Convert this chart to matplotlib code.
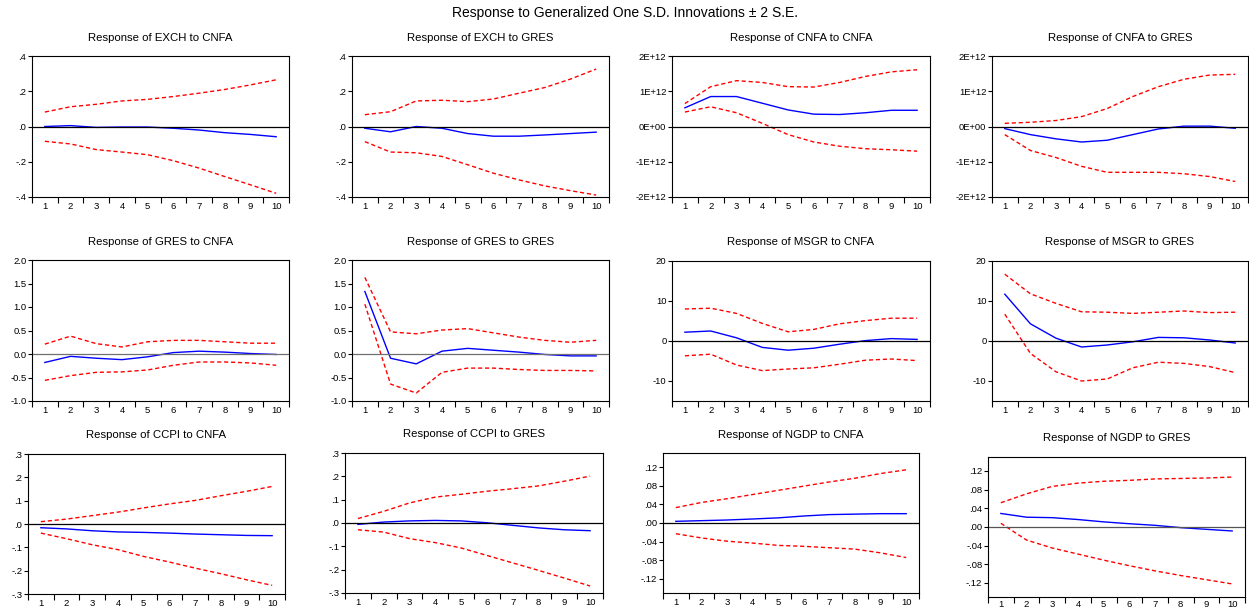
import matplotlib
matplotlib.use("Agg")
import matplotlib.pyplot as plt
import numpy as np

plt.rcParams['font.family'] = ['Liberation Sans', 'DejaVu Sans']

periods = [1, 2, 3, 4, 5, 6, 7, 8, 9, 10]

titles = ["Response of EXCH to CNFA", "Response of EXCH to GRES",
          "Response of CNFA to CNFA", "Response of CNFA to GRES",
          "Response of GRES to CNFA", "Response of GRES to GRES",
          "Response of MSGR to CNFA", "Response of MSGR to GRES",
          "Response of CCPI to CNFA", "Response of CCPI to GRES",
          "Response of NGDP to CNFA", "Response of NGDP to GRES"]

# point responses
resp_exch_cnfa = [0.0, 0.005, -0.005, -0.003, -0.003, -0.01, -0.02, -0.035, -0.045, -0.058]
resp_exch_gres = [-0.01, -0.03, 0.0, -0.01, -0.04, -0.055, -0.055, -0.048, -0.04, -0.032]
resp_cnfa_cnfa = [0.53e12, 0.85e12, 0.85e12, 0.66e12, 0.47e12, 0.35e12, 0.34e12, 0.39e12, 0.46e12, 0.46e12]
resp_cnfa_gres = [-0.06e12, -0.23e12, -0.35e12, -0.44e12, -0.39e12, -0.23e12, -0.07e12, 0.01e12, 0.01e12, -0.05e12]
resp_gres_cnfa = [-0.18, -0.05, -0.09, -0.12, -0.06, 0.03, 0.06, 0.04, 0.01, -0.01]
resp_gres_gres = [1.33, -0.09, -0.21, 0.06, 0.12, 0.08, 0.04, -0.01, -0.04, -0.04]
resp_msgr_cnfa = [2.2, 2.5, 0.8, -1.6, -2.3, -1.8, -0.8, 0.1, 0.6, 0.4]
resp_msgr_gres = [11.7, 4.3, 0.7, -1.5, -1.0, -0.2, 0.9, 0.8, 0.25, -0.5]
resp_ccpi_cnfa = [-0.016, -0.021, -0.029, -0.034, -0.036, -0.039, -0.043, -0.046, -0.049, -0.05]
resp_ccpi_gres = [-0.006, 0.004, 0.009, 0.011, 0.009, 0.001, -0.01, -0.021, -0.029, -0.033]
resp_ngdp_cnfa = [0.0036, 0.005, 0.0064, 0.0086, 0.011, 0.015, 0.018, 0.019, 0.02, 0.02]
resp_ngdp_gres = [0.029, 0.021, 0.02, 0.016, 0.011, 0.007, 0.0036, -0.0014, -0.005, -0.0085]

# upper bands (+2 S.E.)
up_exch_cnfa = [0.082, 0.112, 0.126, 0.145, 0.154, 0.17, 0.189, 0.21, 0.236, 0.265]
up_exch_gres = [0.067, 0.084, 0.145, 0.149, 0.141, 0.156, 0.189, 0.221, 0.269, 0.326]
up_cnfa_cnfa = [0.65e12, 1.13e12, 1.30e12, 1.25e12, 1.13e12, 1.12e12, 1.25e12, 1.42e12, 1.55e12, 1.61e12]
up_cnfa_gres = [0.09e12, 0.12e12, 0.17e12, 0.28e12, 0.51e12, 0.85e12, 1.13e12, 1.34e12, 1.46e12, 1.48e12]
up_gres_cnfa = [0.21, 0.38, 0.22, 0.15, 0.26, 0.29, 0.29, 0.26, 0.23, 0.23]
up_gres_gres = [1.63, 0.47, 0.43, 0.51, 0.54, 0.45, 0.36, 0.29, 0.25, 0.29]
up_msgr_cnfa = [8.0, 8.2, 6.9, 4.4, 2.3, 2.9, 4.3, 5.1, 5.7, 5.7]
up_msgr_gres = [16.7, 11.8, 9.4, 7.3, 7.2, 6.9, 7.2, 7.5, 7.1, 7.2]
up_ccpi_cnfa = [0.01, 0.021, 0.036, 0.051, 0.069, 0.086, 0.101, 0.121, 0.14, 0.161]
up_ccpi_gres = [0.019, 0.05, 0.086, 0.111, 0.123, 0.136, 0.147, 0.159, 0.179, 0.201]
up_ngdp_cnfa = [0.033, 0.044, 0.052, 0.061, 0.07, 0.079, 0.088, 0.096, 0.106, 0.114]
up_ngdp_gres = [0.052, 0.071, 0.087, 0.094, 0.098, 0.1, 0.103, 0.104, 0.105, 0.107]

# lower bands (-2 S.E.)
lo_exch_cnfa = [-0.084, -0.099, -0.131, -0.145, -0.16, -0.194, -0.236, -0.284, -0.331, -0.379]
lo_exch_gres = [-0.086, -0.145, -0.149, -0.17, -0.217, -0.265, -0.303, -0.337, -0.364, -0.389]
lo_cnfa_cnfa = [0.41e12, 0.56e12, 0.39e12, 0.09e12, -0.23e12, -0.44e12, -0.56e12, -0.63e12, -0.66e12, -0.70e12]
lo_cnfa_gres = [-0.23e12, -0.68e12, -0.88e12, -1.13e12, -1.30e12, -1.30e12, -1.30e12, -1.34e12, -1.42e12, -1.56e12]
lo_gres_cnfa = [-0.56, -0.46, -0.39, -0.38, -0.34, -0.24, -0.17, -0.17, -0.19, -0.24]
lo_gres_gres = [1.06, -0.64, -0.83, -0.39, -0.30, -0.30, -0.33, -0.35, -0.35, -0.36]
lo_msgr_cnfa = [-3.7, -3.3, -6.0, -7.4, -7.0, -6.7, -5.8, -4.8, -4.5, -4.9]
lo_msgr_gres = [6.7, -3.1, -7.7, -10.0, -9.5, -6.7, -5.3, -5.6, -6.4, -7.9]
lo_ccpi_cnfa = [-0.039, -0.063, -0.089, -0.11, -0.139, -0.163, -0.189, -0.213, -0.239, -0.263]
lo_ccpi_gres = [-0.029, -0.039, -0.067, -0.084, -0.107, -0.139, -0.171, -0.203, -0.236, -0.27]
lo_ngdp_cnfa = [-0.023, -0.032, -0.039, -0.043, -0.048, -0.05, -0.053, -0.056, -0.064, -0.074]
lo_ngdp_gres = [0.008, -0.028, -0.045, -0.058, -0.071, -0.083, -0.094, -0.104, -0.113, -0.122]

# y tick values and labels
yt_exch = [-0.4, -0.2, 0.0, 0.2, 0.4]
yl_exch = ["-.4", "-.2", ".0", ".2", ".4"]
yt_cnfa = [-2e12, -1e12, 0, 1e12, 2e12]
yl_cnfa = ["-2E+12", "-1E+12", "0E+00", "1E+12", "2E+12"]
yt_gres = [-1.0, -0.5, 0.0, 0.5, 1.0, 1.5, 2.0]
yl_gres = ["-1.0", "-0.5", "0.0", "0.5", "1.0", "1.5", "2.0"]
yt_msgr = [-10, 0, 10, 20]
yl_msgr = ["-10", "0", "10", "20"]
yt_ccpi = [-0.3, -0.2, -0.1, 0.0, 0.1, 0.2, 0.3]
yl_ccpi = ["-.3", "-.2", "-.1", ".0", ".1", ".2", ".3"]
yt_ngdp = [-0.12, -0.08, -0.04, 0.0, 0.04, 0.08, 0.12]
yl_ngdp = ["-.12", "-.08", "-.04", ".00", ".04", ".08", ".12"]

resps = [resp_exch_cnfa, resp_exch_gres, resp_cnfa_cnfa, resp_cnfa_gres,
         resp_gres_cnfa, resp_gres_gres, resp_msgr_cnfa, resp_msgr_gres,
         resp_ccpi_cnfa, resp_ccpi_gres, resp_ngdp_cnfa, resp_ngdp_gres]
ups = [up_exch_cnfa, up_exch_gres, up_cnfa_cnfa, up_cnfa_gres,
       up_gres_cnfa, up_gres_gres, up_msgr_cnfa, up_msgr_gres,
       up_ccpi_cnfa, up_ccpi_gres, up_ngdp_cnfa, up_ngdp_gres]
los = [lo_exch_cnfa, lo_exch_gres, lo_cnfa_cnfa, lo_cnfa_gres,
       lo_gres_cnfa, lo_gres_gres, lo_msgr_cnfa, lo_msgr_gres,
       lo_ccpi_cnfa, lo_ccpi_gres, lo_ngdp_cnfa, lo_ngdp_gres]
yticks = [yt_exch, yt_exch, yt_cnfa, yt_cnfa, yt_gres, yt_gres, yt_msgr, yt_msgr,
          yt_ccpi, yt_ccpi, yt_ngdp, yt_ngdp]
ylabels = [yl_exch, yl_exch, yl_cnfa, yl_cnfa, yl_gres, yl_gres, yl_msgr, yl_msgr,
           yl_ccpi, yl_ccpi, yl_ngdp, yl_ngdp]
ylims = [(-0.4, 0.4), (-0.4, 0.4), (-2e12, 2e12), (-2e12, 2e12),
         (-1.0, 2.0), (-1.0, 2.0), (-15, 20), (-15, 20),
         (-0.3, 0.3), (-0.3, 0.3), (-0.15, 0.15), (-0.15, 0.15)]

W, H = 1249, 611
# axes boxes in pixels: left, top, right, bottom
boxes = [(32, 56, 289, 197), (352, 56, 609, 197), (672, 56, 930, 197), (992, 56, 1248, 197),
         (32, 260, 289, 401), (352, 260, 609, 401), (672, 261, 930, 401), (992, 261, 1248, 401),
         (28, 454, 285, 594), (345, 453, 603, 593), (663, 453, 919, 593), (988, 457, 1245, 597)]
title_y = [38, 38, 38, 38, 242, 242, 242, 242, 435, 434, 435, 438]
zero_colors = ['black', 'black', 'black', 'black', '#707070', '#707070', 'black', 'black',
               'black', 'black', 'black', '#555555']
xpads = [3.5] * 11 + [2.0]

fig = plt.figure(figsize=(W / 100, H / 100), dpi=100)
fig.text(0.5, 1 - 13 / H, "Response to Generalized One S.D. Innovations \u00b1 2 S.E.",
         ha='center', va='center', fontsize=10)

for i in range(12):
    l, t, r, b = boxes[i]
    ax = fig.add_axes([l / W, 1 - b / H, (r - l) / W, (b - t) / H])
    ax.plot(periods, ups[i], color='red', lw=1.0, ls=(0, (3, 2)))
    ax.plot(periods, los[i], color='red', lw=1.0, ls=(0, (3, 2)))
    ax.plot(periods, resps[i], color='blue', lw=1.0)
    ax.axhline(0, color=zero_colors[i], lw=0.9)
    ax.set_xlim(0.5, 10.5)
    ax.set_ylim(*ylims[i])
    ax.set_xticks(periods)
    ax.set_xticklabels([str(p) for p in periods])
    ax.set_xticks(np.arange(0.5, 11, 1.0), minor=True)
    ax.tick_params(axis='x', which='major', length=0, labelsize=6.8, pad=xpads[i])
    ax.tick_params(axis='x', which='minor', length=4, width=0.8, direction='out')
    ax.set_yticks(yticks[i])
    ax.set_yticklabels(ylabels[i])
    ax.tick_params(axis='y', which='major', length=3, width=0.8, direction='out',
                   labelsize=6.8, pad=1)
    for s in ax.spines.values():
        s.set_linewidth(0.8)
    fig.text((l + r) / 2 / W, 1 - title_y[i] / H, titles[i], ha='center', va='center',
             fontsize=8.2)

fig.savefig("out.png", dpi=100)
